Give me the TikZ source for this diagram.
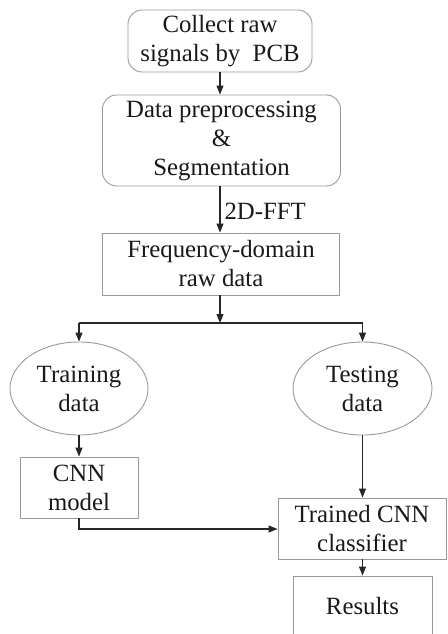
\documentclass[tikz,border=0pt]{standalone}
\usepackage{fontspec}
\setmainfont{Liberation Serif}
\usetikzlibrary{shapes.geometric,arrows.meta}
\begin{document}
\begin{tikzpicture}[x=1pt,y=-1pt,
  every node/.style={font=\fontsize{24.8}{29}\selectfont, text=black!90, align=center, inner sep=0pt},
  rbox/.style={draw=black!40, line width=0.9pt, rounded corners=14pt},
  sbox/.style={draw=black!40, line width=0.9pt},
  ebox/.style={ellipse, draw=black!40, line width=0.9pt},
  conn/.style={draw=black!85, line width=1.1pt},
  arr/.style={conn, -{Triangle[length=9pt,width=7pt]}}]
\useasboundingbox (0,0) rectangle (447,634);
\clip (0,0) rectangle (447,634);
\node[rbox, minimum width=184pt, minimum height=62pt] (c1) at (220,41) {Collect raw\\signals by\ \ PCB};
\node[rbox, minimum width=238pt, minimum height=91pt] (c2) at (221.5,140.5) {Data preprocessing\\\&\\Segmentation};
\node[sbox, minimum width=237pt, minimum height=62pt] (c3) at (221,264) {Frequency-domain\\raw data};
\node[ebox, minimum width=138pt, minimum height=93pt] (e1) at (79,388.5) {Training\\data};
\node[ebox, minimum width=139pt, minimum height=93pt] (e2) at (362.5,388.5) {Testing\\data};
\node[sbox, minimum width=118pt, minimum height=61pt] (cnn) at (79,487.5) {CNN\\model};
\node[sbox, minimum width=168pt, minimum height=61pt] (tr) at (362,528.5) {Trained CNN\\classifier};
\node[sbox, minimum width=139pt, minimum height=60pt] (res) at (362.5,606) {Results};
\coordinate (split) at (220,323);
\coordinate (sl) at (79,323);
\coordinate (sr) at (362.5,323);
\coordinate (bend) at (79,529);
\draw[arr] (c1.south -| 220,0) -- (c2.north -| 220,0);
\draw[arr] (c2.south -| 220,0) -- node[right, xshift=4pt, yshift=-2pt] {2D-FFT} (c3.north -| 220,0);
\draw[arr] (c3.south -| 220,0) -- (split);
\draw[conn] (sl) -- (sr);
\draw[arr] (sl) -- (e1.north);
\draw[arr] (sr) -- (e2.north);
\draw[arr] (e1.south) -- (cnn.north);
\draw[arr] (cnn.south) -- (bend) -- (tr.west |- bend);
\draw[arr] (e2.south) -- (e2.south |- tr.north);
\draw[arr] (tr.south -| res.north) -- (res.north);
\end{tikzpicture}
\end{document}
